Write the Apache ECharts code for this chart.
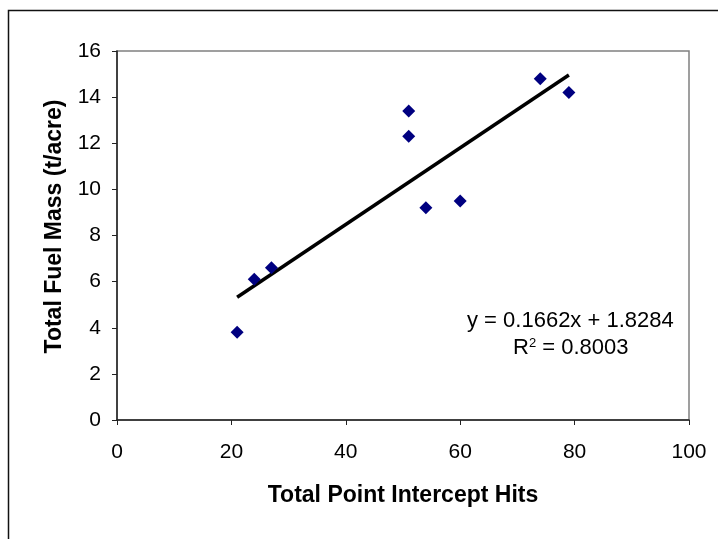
<!DOCTYPE html>
<html>
<head>
<meta charset="utf-8">
<script src="https://cdn.jsdelivr.net/npm/echarts@6/dist/echarts.min.js"></script>
<style>
html, body { margin: 0; padding: 0; background: #fff; }
#chart { width: 718px; height: 539px; }
</style>
</head>
<body>
<div id="chart"></div>
<script>
// point intercept hits vs fuel mass
var hits = [21, 24, 27, 51, 51, 54, 60, 74, 79];
var fuelMass = [3.8, 6.1, 6.6, 13.4, 12.3, 9.2, 9.5, 14.8, 14.2];
// linear trend ends
var trendX = [21, 79];
var trendY = [5.32, 14.96];
var eqLines = ['y = 0.1662x + 1.8284', 'R{sup|2} = 0.8003'];

var chart = echarts.init(document.getElementById('chart'));
var font = 'Liberation Sans, Arial, sans-serif';

var option = {
    animation: false,
    backgroundColor: '#fff',
    grid: {
        left: 117, top: 51, right: 29, bottom: 119,
        show: true,
        borderColor: '#808080',
        borderWidth: 1.5
    },
    xAxis: {
        type: 'value',
        min: 0, max: 100, interval: 20,
        name: 'Total Point Intercept Hits',
        nameLocation: 'middle',
        nameGap: 64,
        nameTextStyle: { fontFamily: font, fontSize: 23, fontWeight: 'bold', color: '#000' },
        axisLine: { show: true, lineStyle: { color: '#222', width: 1.5 } },
        axisTick: { show: true, length: 5, lineStyle: { color: '#222' } },
        axisLabel: { margin: 22, fontFamily: font, fontSize: 21, color: '#000' },
        splitLine: { show: false }
    },
    yAxis: {
        type: 'value',
        min: 0, max: 16, interval: 2,
        name: 'Total Fuel Mass (t/acre)',
        nameLocation: 'middle',
        nameGap: 51,
        nameTextStyle: {
            fontFamily: font, fontSize: 23, fontWeight: 'bold', color: '#000',
            padding: [0, 0, 0, 18]
        },
        axisLine: { show: true, lineStyle: { color: '#222', width: 1.5 } },
        axisTick: { show: true, length: 5, lineStyle: { color: '#222' } },
        axisLabel: { margin: 16, fontFamily: font, fontSize: 21, color: '#000' },
        splitLine: { show: false }
    },
    series: [
        {
            type: 'line',
            data: trendX.map(function (x, i) { return [x, trendY[i]]; }),
            symbol: 'none',
            lineStyle: { color: '#000', width: 3.5 },
            z: 2
        },
        {
            type: 'scatter',
            data: hits.map(function (x, i) { return [x, fuelMass[i]]; }),
            symbol: 'diamond',
            symbolSize: [13, 13],
            itemStyle: { color: '#000080', opacity: 1 },
            z: 3
        }
    ],
    graphic: [
        {
            type: 'rect',
            shape: { x: 8.5, y: 10.5, width: 800, height: 700 },
            style: { fill: 'none', stroke: '#111', lineWidth: 1.5 },
            silent: true
        },
        {
            type: 'text',
            left: 467, top: 310,
            style: { text: eqLines[0], font: '22px ' + font, fill: '#000' }
        },
        {
            type: 'text',
            left: 513, top: 337,
            style: {
                text: eqLines[1],
                font: '22px ' + font, fill: '#000',
                rich: { sup: { fontSize: 13, verticalAlign: 'top', padding: [0, 0, 9, 0] } }
            }
        }
    ]
};
chart.setOption(option);
</script>
</body>
</html>
